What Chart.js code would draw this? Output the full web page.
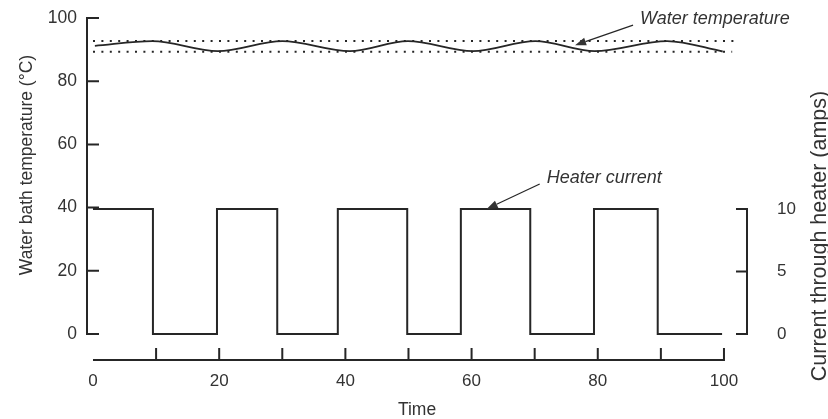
<!DOCTYPE html>
<html>
<head>
<meta charset="utf-8">
<script src="https://cdn.jsdelivr.net/npm/chart.js@4.4.0/dist/chart.umd.min.js"></script>
<style>
  html, body { margin: 0; padding: 0; background: #fff; }
  #wrap { width: 828px; height: 419px; }
</style>
</head>
<body>
<div id="wrap"><canvas id="tempChart" width="828" height="419"></canvas></div>
<script>
// axis ticks
const timeLabels = [0, 20, 40, 60, 80, 100];
const timeMarks = [10, 20, 30, 40, 50, 60, 70, 80, 90, 100];
const tempTicks = [0, 20, 40, 60, 80, 100];
const ampTicks = [0, 5, 10];

// heater current (amps), switching times
const heaterTimes = [0, 9.5, 19.65, 29.2, 38.8, 49.8, 58.3, 69.3, 79.4, 89.5, 99.7];
const heaterAmps = [10, 0, 10, 0, 10, 0, 10, 0, 10, 0, 0];

// water temperature (peaks / troughs)
const waterTimes = [0.3, 9.4, 19.8, 30.0, 40.7, 49.9, 60.2, 70.1, 79.5, 91.0, 99.8];
const waterTemps = [91.2, 92.7, 89.5, 92.7, 89.5, 92.7, 89.5, 92.7, 89.5, 92.7, 89.4];

// dotted control band
const upperBandTimes = [0, 102.2];
const upperBand = [92.7, 92.7];
const lowerBandTimes = [0, 101.3];
const lowerBand = [89.3, 89.3];

const ink = '#262626';
const txt = '#333333';
const fontFam = '"Liberation Sans", Arial, Helvetica, sans-serif';

const toPts = (xs, ys) => xs.map((x, i) => ({ x: x, y: ys[i] }));

// draws the axis lines + inward ticks, the side titles and the callouts
const axesPlugin = {
    id: 'axesPlugin',
    afterDraw(chart) {
        const { ctx, chartArea, scales } = chart;
        const x = scales.x, y = scales.y, y2 = scales.y2;
        ctx.save();
        ctx.strokeStyle = ink;
        ctx.lineWidth = 2;
        ctx.lineCap = 'butt';

        // left axis
        const lx = chartArea.left;
        ctx.beginPath();
        ctx.moveTo(lx, y.getPixelForValue(0) + 1);
        ctx.lineTo(lx, y.getPixelForValue(100) - 1);
        tempTicks.forEach(v => {
            const py = y.getPixelForValue(v);
            ctx.moveTo(lx, py);
            ctx.lineTo(lx + 12, py);
        });
        ctx.stroke();

        // right axis
        const rx = chartArea.right;
        ctx.beginPath();
        ctx.moveTo(rx, y2.getPixelForValue(0) + 1);
        ctx.lineTo(rx, y2.getPixelForValue(10) - 1);
        ampTicks.forEach(v => {
            const py = y2.getPixelForValue(v);
            ctx.moveTo(rx, py);
            ctx.lineTo(rx - 11, py);
        });
        ctx.stroke();

        // time axis
        const by = chartArea.bottom;
        ctx.beginPath();
        ctx.moveTo(x.getPixelForValue(0), by);
        ctx.lineTo(x.getPixelForValue(100) + 1, by);
        timeMarks.forEach(v => {
            const px = x.getPixelForValue(v);
            ctx.moveTo(px, by);
            ctx.lineTo(px, by - 12);
        });
        ctx.stroke();

        // side titles, both read bottom to top
        ctx.fillStyle = txt;
        ctx.textAlign = 'center';
        ctx.textBaseline = 'middle';
        const sideTitle = (text, px, py, size) => {
            ctx.save();
            ctx.font = size + 'px ' + fontFam;
            ctx.translate(px, py);
            ctx.rotate(-Math.PI / 2);
            ctx.fillText(text, 0, 0);
            ctx.restore();
        };
        sideTitle('Water bath temperature (°C)', 27, 165, 17.5);
        sideTitle('Current through heater (amps)', 820, 236, 21.5);

        // callouts
        const notes = [
            { text: 'Water temperature', tip: [x.getPixelForValue(76.4), y.getPixelForValue(91.4)], tail: [58, -20] },
            { text: 'Heater current', tip: [x.getPixelForValue(62.4), y2.getPixelForValue(10)], tail: [53, -25] }
        ];
        ctx.font = 'italic 18px ' + fontFam;
        ctx.textAlign = 'left';
        ctx.lineWidth = 1.2;
        notes.forEach(n => {
            const [tx, ty] = n.tip;
            const ex = tx + n.tail[0], ey = ty + n.tail[1];
            const ang = Math.atan2(ty - ey, tx - ex);
            const hl = 11, hw = 4;
            const bx = tx - hl * Math.cos(ang), byy = ty - hl * Math.sin(ang);
            ctx.beginPath();
            ctx.moveTo(ex, ey);
            ctx.lineTo(bx, byy);
            ctx.stroke();
            ctx.beginPath();
            ctx.moveTo(tx, ty);
            ctx.lineTo(bx + hw * Math.sin(ang), byy - hw * Math.cos(ang));
            ctx.lineTo(bx - hw * Math.sin(ang), byy + hw * Math.cos(ang));
            ctx.closePath();
            ctx.fill();
            ctx.fillText(n.text, ex + 7, ey - 6);
        });
        ctx.restore();
    }
};

const ctx = document.getElementById('tempChart').getContext('2d');

// invisible grid; tickLength only pushes the labels away from the axis
const hiddenGrid = len => ({ display: false, drawOnChartArea: false, drawTicks: true, tickLength: len });

new Chart(ctx, {
    type: 'line',
    data: {
        datasets: [
            {
                label: 'upper band',
                data: toPts(upperBandTimes, upperBand),
                borderColor: ink,
                borderWidth: 2,
                borderDash: [2, 6.4],
                pointRadius: 0,
                yAxisID: 'y'
            },
            {
                label: 'lower band',
                data: toPts(lowerBandTimes, lowerBand),
                borderColor: ink,
                borderWidth: 2,
                borderDash: [2, 6.4],
                pointRadius: 0,
                yAxisID: 'y'
            },
            {
                label: 'Water temperature',
                data: toPts(waterTimes, waterTemps),
                borderColor: ink,
                borderWidth: 1.8,
                cubicInterpolationMode: 'monotone',
                pointRadius: 0,
                yAxisID: 'y'
            },
            {
                label: 'Heater current',
                data: toPts(heaterTimes, heaterAmps),
                borderColor: ink,
                borderWidth: 2,
                stepped: 'before',
                pointRadius: 0,
                yAxisID: 'y2'
            }
        ]
    },
    options: {
        responsive: false,
        animation: false,
        layout: { padding: { top: 18, left: 0, right: 0, bottom: 0 } },
        plugins: {
            legend: { display: false },
            tooltip: { enabled: false }
        },
        scales: {
            x: {
                type: 'linear',
                min: -0.95,
                max: 103.65,
                afterBuildTicks: s => { s.ticks = timeLabels.map(v => ({ value: v })); },
                afterFit: s => { s.height = 59; },
                grid: hiddenGrid(0),
                border: { display: false },
                ticks: { autoSkip: false, maxRotation: 0, padding: 11, color: txt, font: { family: fontFam, size: 17 } },
                title: { display: true, text: 'Time', color: txt, padding: { top: 0, bottom: 0 }, font: { family: fontFam, size: 17.5, lineHeight: 1 } }
            },
            y: {
                position: 'left',
                min: -8.23,
                max: 100,
                afterBuildTicks: s => { s.ticks = tempTicks.map(v => ({ value: v })); },
                afterFit: s => { s.width = 87; },
                grid: hiddenGrid(7),
                border: { display: false },
                ticks: { autoSkip: false, padding: 3, color: txt, font: { family: fontFam, size: 17.5 } }
            },
            y2: {
                position: 'right',
                min: -2.08,
                max: 25.28,
                afterBuildTicks: s => { s.ticks = ampTicks.map(v => ({ value: v })); },
                afterFit: s => { s.width = 81; },
                grid: hiddenGrid(27),
                border: { display: false },
                ticks: { autoSkip: false, padding: 3, crossAlign: 'near', color: txt, font: { family: fontFam, size: 17 } }
            }
        }
    },
    plugins: [axesPlugin]
});
</script>
</body>
</html>
